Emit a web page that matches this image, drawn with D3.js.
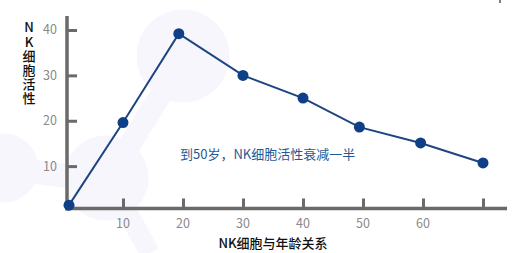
<!DOCTYPE html>
<html lang="zh">
<head>
<meta charset="UTF-8">
<title>NK细胞与年龄关系</title>
<script src="https://d3js.org/d3.v7.min.js"></script>
<style>
    body { margin: 0; background: #fff; }
    svg { display: block; }
    text { font-family: "Noto Sans CJK SC", "Noto Sans", sans-serif; }
    .ytitle { writing-mode: vertical-rl; text-orientation: upright; }
</style>
</head>
<body>
<svg id="chart" width="515" height="253"></svg>
<script>
    // data
    const ages = [1, 10, 19.3, 30, 40, 49.4, 59.6, 70];
    const activity = [1.4, 19.6, 39.2, 30, 25, 18.6, 15.1, 10.7];
    const xTicks = [10, 20, 30, 40, 50, 60, 70];
    const xTickLabels = ["10", "20", "30", "40", "50", "60", ""];
    const yTicks = [10, 20, 30, 40];
    const yTitle = "NK细胞活性";
    const xTitle = "NK细胞与年龄关系";
    const note = "到50岁，NK细胞活性衰减一半";

    const axisColor = "#6a6a6a";
    const lineColor = "#1d4580";
    const dotColor = "#0f3f86";

    const svg = d3.select("#chart");

    // faint decorative background blobs
    const bg = svg.append("g").attr("fill", "#f6f6fc").attr("stroke", "#f6f6fc");
    bg.append("circle").attr("cx", 183).attr("cy", 56).attr("r", 46);
    bg.append("circle").attr("cx", 106).attr("cy", 178).attr("r", 42);
    bg.append("circle").attr("cx", 4).attr("cy", 168).attr("r", 34);
    bg.append("line").attr("x1", 20).attr("y1", 170).attr("x2", 100).attr("y2", 180).attr("stroke-width", 24);
    bg.append("line").attr("x1", 115).attr("y1", 190).attr("x2", 150).attr("y2", 253).attr("stroke-width", 20);
    bg.append("line").attr("x1", 170).attr("y1", 80).attr("x2", 120).attr("y2", 160).attr("stroke-width", 22);

    const x = d3.scaleLinear().domain([0, 70]).range([63, 483]);
    const y = d3.scaleLinear().domain([0, 40]).range([211.5, 30]);

    const axX = 67, axY = 208.5;

    // y axis
    svg.append("line")
        .attr("x1", axX).attr("x2", axX).attr("y1", 16).attr("y2", axY + 2)
        .attr("stroke", axisColor).attr("stroke-width", 3.5);
    const yAxis = svg.append("g").attr("transform", `translate(${axX},0)`)
        .call(d3.axisRight(y).tickValues(yTicks).tickSize(10).tickFormat(""));
    yAxis.select(".domain").remove();
    yAxis.selectAll(".tick line").attr("stroke", axisColor).attr("stroke-width", 3);
    svg.selectAll(".ylab").data(yTicks).enter().append("text")
        .attr("x", 57).attr("y", d => y(d)).attr("dy", "0.35em")
        .attr("text-anchor", "end").attr("font-size", 12.5).attr("fill", "#8a8a8a")
        .text(d => d);

    // x axis
    svg.append("line")
        .attr("x1", axX - 1.5).attr("x2", 507).attr("y1", axY).attr("y2", axY)
        .attr("stroke", axisColor).attr("stroke-width", 3.5);
    const xAxis = svg.append("g").attr("transform", `translate(0,${axY})`)
        .call(d3.axisTop(x).tickValues(xTicks).tickSize(10).tickFormat(""));
    xAxis.select(".domain").remove();
    xAxis.selectAll(".tick line").attr("stroke", axisColor).attr("stroke-width", 3);
    svg.selectAll(".xlab").data(xTicks).enter().append("text")
        .attr("x", d => x(d)).attr("y", 224).attr("dy", "0.35em")
        .attr("text-anchor", "middle").attr("font-size", 12.5).attr("fill", "#8a8a8a")
        .text((d, i) => xTickLabels[i]);

    // titles
    svg.append("text").attr("class", "ytitle")
        .attr("x", 29).attr("y", 21)
        .attr("font-size", 13).attr("font-weight", 500)
        .attr("letter-spacing", 1.2)
        .attr("fill", "#111").text(yTitle);
    svg.append("text")
        .attr("x", 273).attr("y", 243).attr("dy", "0.35em")
        .attr("text-anchor", "middle").attr("font-size", 13).attr("font-weight", 500)
        .attr("fill", "#111").text(xTitle);
    svg.append("text")
        .attr("x", 180).attr("y", 154).attr("dy", "0.35em")
        .attr("font-size", 13).attr("fill", "#1f5a96")
        .text(note);

    // line + points
    const pts = ages.map((a, i) => [a, activity[i]]);
    svg.append("path").datum(pts)
        .attr("fill", "none").attr("stroke", lineColor).attr("stroke-width", 2)
        .attr("d", d3.line().x(d => x(d[0])).y(d => y(d[1])));
    svg.selectAll(".dot").data(pts).enter().append("circle")
        .attr("cx", d => x(d[0])).attr("cy", d => y(d[1])).attr("r", 5.5)
        .attr("fill", dotColor);

    // tiny mark top-right
    svg.append("line").attr("x1", 500).attr("x2", 500).attr("y1", 0).attr("y2", 3)
        .attr("stroke", "#000").attr("stroke-width", 1);
</script>
</body>
</html>
